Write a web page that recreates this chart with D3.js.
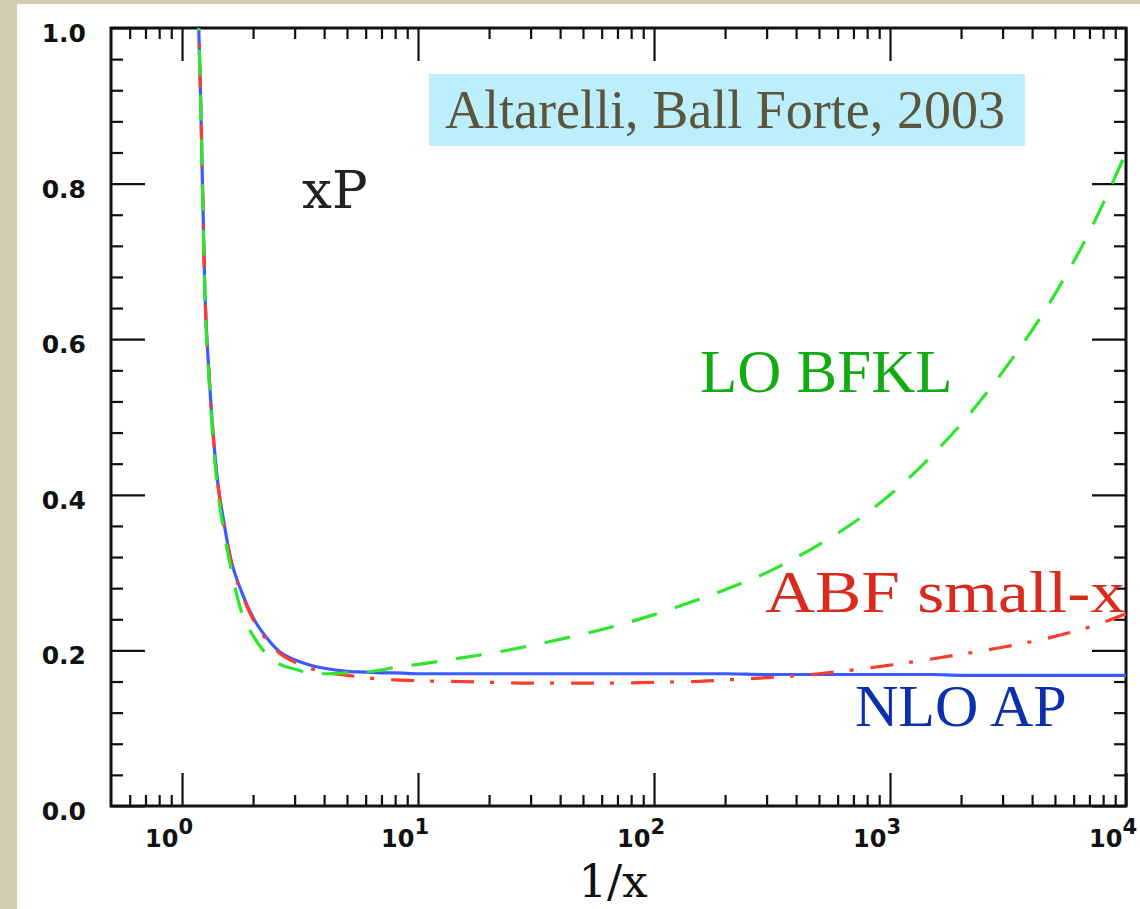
<!DOCTYPE html>
<html>
<head>
<meta charset="utf-8">
<script src="https://cdn.jsdelivr.net/npm/d3@7"></script>
<style>
html, body { margin: 0; padding: 0; background: #d2cead; }
svg { display: block; }
</style>
</head>
<body>
<svg id="chart" width="1140" height="909"></svg>
<script>
// 1/x values shared by the three curves
const invX = [1.17, 1.2, 1.25, 1.3, 1.4, 1.5, 1.6, 1.8, 2, 2.3, 2.6, 3, 3.5, 4, 5, 6, 7, 8,
    10, 15, 20, 30, 50, 70, 100, 150, 200, 300, 500, 700, 1000, 1500, 2000, 3000, 5000, 7000, 10000];

// xP
const nloAP = [1.03, 0.905, 0.66, 0.558, 0.430, 0.367, 0.321, 0.273, 0.242, 0.215, 0.198, 0.188, 0.181, 0.177, 0.173, 0.172, 0.171, 0.171,
    0.170, 0.170, 0.170, 0.170, 0.170, 0.170, 0.170, 0.170, 0.170, 0.169, 0.169, 0.169, 0.169, 0.169, 0.168, 0.168, 0.168, 0.168, 0.168];
const abfSmallX = [1.03, 0.905, 0.66, 0.557, 0.428, 0.365, 0.319, 0.271, 0.240, 0.212, 0.196, 0.185, 0.177, 0.172, 0.168, 0.165, 0.163, 0.162,
    0.161, 0.160, 0.159, 0.158, 0.158, 0.158, 0.159, 0.160, 0.162, 0.165, 0.170, 0.175, 0.181, 0.189, 0.195, 0.204, 0.218, 0.230, 0.247];
const loBFKL = [1.03, 0.90, 0.655, 0.55, 0.42, 0.355, 0.31, 0.246, 0.219, 0.194, 0.182, 0.176, 0.171, 0.170, 0.171, 0.172, 0.175, 0.178,
    0.182, 0.190, 0.196, 0.206, 0.221, 0.232, 0.246, 0.264, 0.278, 0.300, 0.336, 0.364, 0.400, 0.450, 0.491, 0.558, 0.658, 0.738, 0.840];

const xMajorTicks = [1, 10, 100, 1000, 10000];
const xExponents = ["0", "1", "2", "3", "4"];
const yMajorTicks = [0, 0.2, 0.4, 0.6, 0.8, 1.0];
const yTickLabels = ["0.0", "0.2", "0.4", "0.6", "0.8", "1.0"];

var svg = d3.select("#chart");

// paper background with the white slide area
svg.append("rect").attr("x", 17).attr("y", 4).attr("width", 1123).attr("height", 905).attr("fill", "#ffffff");

var x = d3.scaleLog().domain([0.5, 1e4]).range([111, 1126]);
var y = d3.scaleLinear().domain([0, 1]).range([806, 28]);

var xMinor = [];
[0.1, 1, 10, 100, 1000].forEach(function (d) {
    for (let k = 2; k <= 9; k++) {
        var v = d * k;
        if (v > 0.5 && v < 1e4) xMinor.push(v);
    }
});
var yMinor = d3.range(0, 1.0001, 0.04).filter(function (d) { return Math.abs(d * 5 - Math.round(d * 5)) > 1e-6; });

function styleAxis(sel) {
    sel.select(".domain").remove();
    sel.selectAll(".tick line").attr("stroke", "#111").attr("stroke-width", 2.2);
}

// ticks on all four sides, pointing inwards
svg.append("g").attr("transform", "translate(0," + y(0) + ")")
    .call(d3.axisBottom(x).tickValues(xMajorTicks).tickSize(-33).tickFormat("")).call(styleAxis);
svg.append("g").attr("transform", "translate(0," + y(0) + ")")
    .call(d3.axisBottom(x).tickValues(xMinor).tickSize(-11).tickFormat("")).call(styleAxis);
svg.append("g").attr("transform", "translate(0," + y(1) + ")")
    .call(d3.axisTop(x).tickValues(xMajorTicks).tickSize(-33).tickFormat("")).call(styleAxis);
svg.append("g").attr("transform", "translate(0," + y(1) + ")")
    .call(d3.axisTop(x).tickValues(xMinor).tickSize(-11).tickFormat("")).call(styleAxis);
svg.append("g").attr("transform", "translate(" + x(0.5) + ",0)")
    .call(d3.axisLeft(y).tickValues(yMajorTicks).tickSize(-34).tickFormat("")).call(styleAxis);
svg.append("g").attr("transform", "translate(" + x(0.5) + ",0)")
    .call(d3.axisLeft(y).tickValues(yMinor).tickSize(-12).tickFormat("")).call(styleAxis);
svg.append("g").attr("transform", "translate(" + x(1e4) + ",0)")
    .call(d3.axisRight(y).tickValues(yMajorTicks).tickSize(-34).tickFormat("")).call(styleAxis);
svg.append("g").attr("transform", "translate(" + x(1e4) + ",0)")
    .call(d3.axisRight(y).tickValues(yMinor).tickSize(-12).tickFormat("")).call(styleAxis);

// frame
svg.append("rect")
    .attr("x", x(0.5)).attr("y", y(1))
    .attr("width", x(1e4) - x(0.5)).attr("height", y(0) - y(1))
    .attr("fill", "none").attr("stroke", "#111").attr("stroke-width", 3);

// tick labels
svg.append("g").selectAll("text").data(yMajorTicks).enter().append("text")
    .attr("x", 86).attr("y", function (d) { return y(d) + 14; })
    .attr("text-anchor", "end")
    .attr("font-family", "DejaVu Sans").attr("font-weight", "bold").attr("font-size", 25)
    .attr("fill", "#111")
    .text(function (d, i) { return yTickLabels[i]; });

var xl = svg.append("g").selectAll("text").data(xMajorTicks).enter().append("text")
    .attr("x", function (d) { return x(d) - 37; }).attr("y", 847)
    .attr("font-family", "DejaVu Sans").attr("font-weight", "bold").attr("font-size", 24)
    .attr("fill", "#111");
xl.append("tspan").text("10");
xl.append("tspan").attr("dy", -13).attr("font-size", 21).text(function (d, i) { return xExponents[i]; });

svg.append("text").attr("x", 613).attr("y", 897).attr("text-anchor", "middle")
    .attr("font-family", "DejaVu Serif").attr("font-size", 45).attr("fill", "#111")
    .text("1/x");

// curves
svg.append("clipPath").attr("id", "plotClip").append("rect")
    .attr("x", x(0.5)).attr("y", y(1)).attr("width", x(1e4) - x(0.5)).attr("height", y(0) - y(1));

var series = [
    { values: nloAP, color: "#3a5cff", dash: null },
    { values: abfSmallX, color: "#ff3b2a", dash: "23,16,4,17" },
    { values: loBFKL, color: "#2ee62e", dash: "26,19" }
];

var line = d3.line()
    .x(function (d) { return x(d[0]); })
    .y(function (d) { return y(d[1]); })
    .curve(d3.curveMonotoneX);

var plot = svg.append("g").attr("clip-path", "url(#plotClip)");
series.forEach(function (s) {
    plot.append("path")
        .datum(invX.map(function (v, i) { return [v, s.values[i]]; }))
        .attr("d", line)
        .attr("fill", "none")
        .attr("stroke", s.color)
        .attr("stroke-width", 3.2)
        .attr("stroke-dasharray", s.dash);
});

// annotations
svg.append("text").attr("x", 302).attr("y", 208)
    .attr("font-family", "DejaVu Serif").attr("font-size", 53).attr("fill", "#222")
    .text("xP");

svg.append("rect").attr("x", 429).attr("y", 74).attr("width", 596).attr("height", 72).attr("fill", "#bdeefc");
svg.append("text").attr("x", 445).attr("y", 128)
    .attr("font-family", "Liberation Serif").attr("font-size", 54).attr("fill", "#5a553d")
    .attr("textLength", 560).attr("lengthAdjust", "spacingAndGlyphs")
    .text("Altarelli, Ball Forte, 2003");

svg.append("text").attr("x", 700).attr("y", 392)
    .attr("font-family", "Liberation Serif").attr("font-size", 61).attr("fill", "#12ab12")
    .text("LO BFKL");
svg.append("text").attr("x", 765).attr("y", 612)
    .attr("font-family", "Liberation Serif").attr("font-size", 60).attr("fill", "#d92a1e")
    .attr("textLength", 360).attr("lengthAdjust", "spacingAndGlyphs")
    .text("ABF small-x");
svg.append("text").attr("x", 855).attr("y", 726)
    .attr("font-family", "Liberation Serif").attr("font-size", 60).attr("fill", "#0c2fb0")
    .text("NLO AP");
</script>
</body>
</html>
